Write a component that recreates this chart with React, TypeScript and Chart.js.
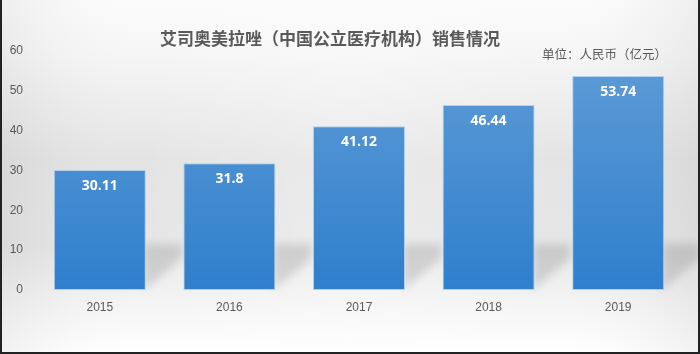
import React, { useEffect, useRef } from "react";
import { Chart, registerables } from "chart.js";

Chart.register(...registerables);

const titleText = "艾司奥美拉唑（中国公立医疗机构）销售情况";
const unitText = "单位：人民币（亿元）";
const years = ["2015", "2016", "2017", "2018", "2019"];
const sales = [30.11, 31.8, 41.12, 46.44, 53.74];
const yMin = 0;
const yMax = 60;
const yStep = 10;

const W = 700;
const H = 354;

const backgroundPlugin = {
  id: "bgPlugin",
  beforeDraw(chart: any) {
    const ctx = chart.ctx as CanvasRenderingContext2D;
    ctx.save();
    const g = ctx.createLinearGradient(0, 0, 0, H);
    g.addColorStop(0, "#fbfbfb");
    g.addColorStop(0.15, "#f6f6f6");
    g.addColorStop(0.45, "#e4e4e4");
    g.addColorStop(0.7, "#e6e6e6");
    g.addColorStop(0.88, "#f6f6f6");
    g.addColorStop(1, "#ffffff");
    ctx.fillStyle = g;
    ctx.fillRect(0, 0, W, H);
    const h = ctx.createLinearGradient(0, 0, W, 0);
    h.addColorStop(0, "rgba(0,0,0,0.05)");
    h.addColorStop(0.2, "rgba(255,255,255,0.0)");
    h.addColorStop(0.5, "rgba(255,255,255,0.25)");
    h.addColorStop(0.8, "rgba(255,255,255,0.0)");
    h.addColorStop(1, "rgba(0,0,0,0.05)");
    ctx.fillStyle = h;
    ctx.fillRect(0, 0, W, H);
    // title
    ctx.fillStyle = "#595959";
    ctx.textAlign = "center";
    ctx.textBaseline = "middle";
    ctx.font = "bold 17px 'Noto Sans CJK SC'";
    ctx.fillText(titleText, 330, 39);
    ctx.textAlign = "right";
    ctx.font = "12.5px 'Noto Sans CJK SC'";
    ctx.fillText(unitText, 667, 54);
    ctx.restore();
  },
  beforeDatasetsDraw(chart: any) {
    const ctx = chart.ctx as CanvasRenderingContext2D;
    const meta = chart.getDatasetMeta(0);
    ctx.save();
    ctx.filter = "blur(4px)";
    ctx.fillStyle = "rgba(0,0,0,0.12)";
    meta.data.forEach((bar: any) => {
      const R = bar.x + bar.width / 2;
      const B = bar.base;
      ctx.beginPath();
      ctx.moveTo(R - 2, B - 46);
      ctx.lineTo(R + 36, B - 46);
      ctx.lineTo(R + 36, B - 32);
      ctx.lineTo(R - 2, B);
      ctx.closePath();
      ctx.fill();
    });
    ctx.restore();
  },
  afterDatasetsDraw(chart: any) {
    const ctx = chart.ctx as CanvasRenderingContext2D;
    const meta = chart.getDatasetMeta(0);
    ctx.save();
    ctx.fillStyle = "#ffffff";
    ctx.textAlign = "center";
    ctx.textBaseline = "middle";
    ctx.font = "bold 14px 'Open Sans'";
    meta.data.forEach((bar: any, i: number) => {
      ctx.fillText(String(sales[i]), bar.x, bar.y + 16);
    });
    ctx.restore();
  },
  afterDraw(chart: any) {
    const ctx = chart.ctx as CanvasRenderingContext2D;
    ctx.save();
    ctx.strokeStyle = "#222222";
    ctx.lineWidth = 2;
    ctx.beginPath();
    ctx.moveTo(1, 0);
    ctx.lineTo(1, H - 1);
    ctx.lineTo(W - 1, H - 1);
    ctx.lineTo(W - 1, 0);
    ctx.stroke();
    ctx.restore();
  },
};

export default function App() {
  const ref = useRef<HTMLCanvasElement | null>(null);
  useEffect(() => {
    const canvas = ref.current;
    if (!canvas) return;
    const chart = new Chart(canvas, {
      type: "bar",
      data: {
        labels: years,
        datasets: [
          {
            data: sales,
            backgroundColor: (c: any) => {
              const area = c.chart.chartArea;
              if (!area) return "#4a8fd6";
              const g = c.chart.ctx.createLinearGradient(0, area.top, 0, area.bottom);
              g.addColorStop(0, "#5f9cd6");
              g.addColorStop(1, "#2f7fcd");
              return g;
            },
            borderColor: "rgba(170,205,235,0.9)",
            borderWidth: 1,
            borderSkipped: false,
            categoryPercentage: 1,
            barPercentage: 0.71,
          },
        ],
      },
      options: {
        animation: false,
        responsive: false,
        layout: { padding: { top: 51, right: 17, left: 0, bottom: 0 } },
        plugins: {
          legend: { display: false },
          title: { display: false },
          tooltip: { enabled: false },
        },
        scales: {
          x: {
            grid: { display: false, drawTicks: false },
            border: { display: false },
            ticks: {
              color: "#595959",
              font: { family: "'Liberation Sans'", size: 12 },
              padding: 10,
            },
            afterFit: (s: any) => {
              s.height = 64;
            },
          },
          y: {
            min: yMin,
            max: yMax,
            grid: { display: false, drawTicks: false },
            border: { display: false },
            ticks: {
              stepSize: yStep,
              color: "#595959",
              font: { family: "'Liberation Sans'", size: 12 },
              padding: 12,
            },
            afterFit: (s: any) => {
              s.width = 35;
            },
          },
        },
      },
      plugins: [backgroundPlugin],
    } as any);
    return () => chart.destroy();
  }, []);
  return (
    <div style={{ position: "fixed", left: 0, top: 0, width: W, height: H }}>
      <canvas ref={ref} width={W} height={H} style={{ display: "block", width: W, height: H }} />
    </div>
  );
}
